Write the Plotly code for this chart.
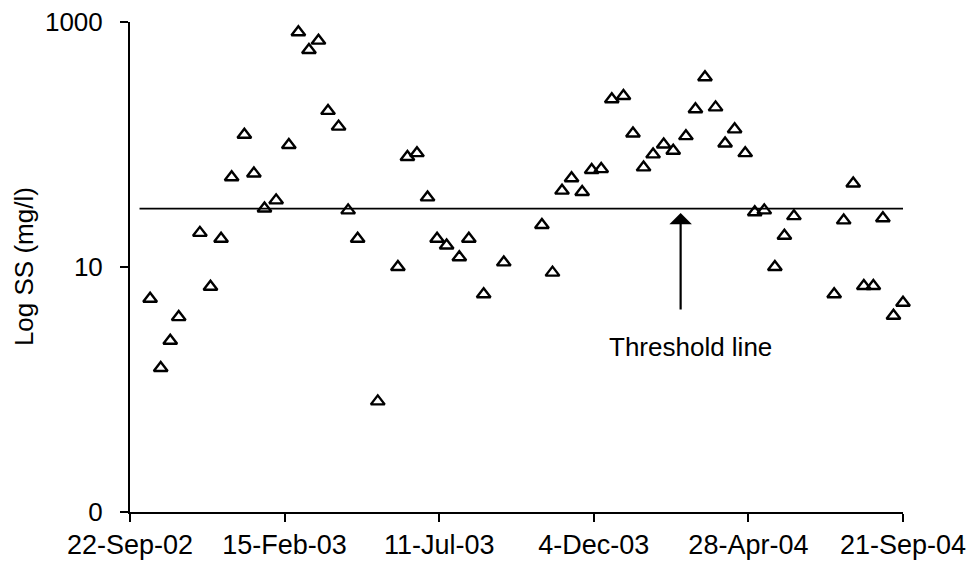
import math
import plotly.graph_objects as go

# --- data ---
sample_dates = [
    "2002-10-11", "2002-10-21", "2002-10-30", "2002-11-07", "2002-11-27",
    "2002-12-07", "2002-12-17", "2002-12-27", "2003-01-08", "2003-01-17",
    "2003-01-27", "2003-02-07", "2003-02-19", "2003-02-28", "2003-03-10",
    "2003-03-19", "2003-03-28", "2003-04-07", "2003-04-16", "2003-04-25",
    "2003-05-14", "2003-06-02", "2003-06-11", "2003-06-20", "2003-06-30",
    "2003-07-09", "2003-07-18", "2003-07-30", "2003-08-08", "2003-08-22",
    "2003-09-10", "2003-10-16", "2003-10-26", "2003-11-04", "2003-11-13",
    "2003-11-23", "2003-12-02", "2003-12-11", "2003-12-21", "2004-01-01",
    "2004-01-10", "2004-01-20", "2004-01-29", "2004-02-08", "2004-02-17",
    "2004-02-29", "2004-03-09", "2004-03-18", "2004-03-28", "2004-04-06",
    "2004-04-15", "2004-04-25", "2004-05-04", "2004-05-13", "2004-05-23",
    "2004-06-01", "2004-06-10", "2004-07-18", "2004-07-27", "2004-08-05",
    "2004-08-15", "2004-08-24", "2004-09-02", "2004-09-12", "2004-09-21",
]
ss_values = [
    5.5, 1.5, 2.5, 3.9, 19,
    6.9, 17, 54, 120, 58,
    30, 35, 99, 824, 591,
    704, 188, 140, 29, 17,
    0.8, 10, 79, 85, 37,
    17, 15, 12, 17, 6.0,
    10.9, 22, 9.0, 42, 53,
    41, 62, 63, 234, 249,
    123, 65, 83, 100, 89,
    117, 194, 354, 201, 102,
    133, 85, 28, 29, 10,
    18, 26, 6.0, 24, 48,
    7.0, 7.0, 25, 4.0, 5.1,
]

threshold_dates = ["2002-10-01", "2004-09-21"]
threshold_values = [30, 30]

x_tick_dates = ["2002-09-22", "2003-02-15", "2003-07-11", "2003-12-04", "2004-04-28", "2004-09-21"]
x_tick_labels = ["22-Sep-02", "15-Feb-03", "11-Jul-03", "4-Dec-03", "28-Apr-04", "21-Sep-04"]
y_tick_vals = [0.1, 10, 1000]
y_tick_labels = ["0", "10", "1000"]
y_title = "Log SS (mg/l)"

arrow_date = "2004-02-24"
arrow_tip_value = 27.6
label_date = "2004-03-04"
label_value = 2.22

FONT = "Liberation Sans, Arial, sans-serif"

fig = go.Figure()

fig.add_trace(go.Scatter(
    x=threshold_dates, y=threshold_values, mode="lines",
    line=dict(color="black", width=1.8), showlegend=False, hoverinfo="skip",
))

fig.add_trace(go.Scatter(
    x=sample_dates, y=ss_values, mode="markers",
    marker=dict(symbol="triangle-up-open", size=12, color="black",
                line=dict(color="black", width=2.4)),
    showlegend=False, cliponaxis=False,
))

fig.add_annotation(
    x=arrow_date, y=math.log10(arrow_tip_value), xref="x", yref="y",
    ax=0, ay=98, axref="pixel", ayref="pixel",
    showarrow=True, arrowhead=1, arrowsize=1.7, arrowwidth=2.2,
    arrowcolor="black", text="",
)
fig.add_annotation(
    x=label_date, y=math.log10(label_value), xref="x", yref="y",
    text="Threshold line", showarrow=False,
    font=dict(family=FONT, size=26, color="black"),
)
# y-axis title as a rotated annotation placed left of the tick labels
fig.add_annotation(
    x=-0.137, y=0.5, xref="paper", yref="paper",
    xanchor="center", yanchor="middle", textangle=-90,
    text=y_title, showarrow=False,
    font=dict(family=FONT, size=26, color="black"),
)

fig.update_layout(
    width=969, height=566,
    margin=dict(l=130, r=66, t=22, b=54, autoexpand=False),
    paper_bgcolor="white", plot_bgcolor="white",
    font=dict(family=FONT, size=26, color="black"),
)

fig.update_xaxes(
    type="date",
    range=["2002-09-22", "2004-09-21"],
    tickvals=x_tick_dates, ticktext=x_tick_labels,
    ticks="outside", ticklen=8, tickwidth=1.5, tickcolor="black",
    showline=True, linecolor="black", linewidth=2,
    showgrid=False, zeroline=False, automargin=False,
    ticklabelstandoff=0,
    tickfont=dict(family=FONT, size=27, color="black"),
)

fig.update_yaxes(
    type="log",
    range=[-1, 3],
    tickvals=y_tick_vals, ticktext=y_tick_labels,
    ticks="outside", ticklen=8, tickwidth=1.5, tickcolor="black",
    showline=True, linecolor="black", linewidth=2,
    showgrid=False, zeroline=False, automargin=False,
    ticklabelstandoff=12,
    tickfont=dict(family=FONT, size=26, color="black"),
)

fig.write_html("out.html")
